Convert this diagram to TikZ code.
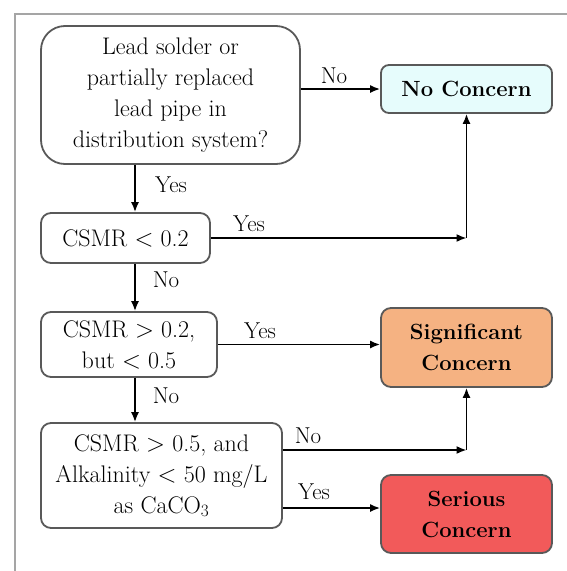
\documentclass[tikz,border=0pt]{standalone}
\usetikzlibrary{arrows.meta}
\definecolor{nocon}{RGB}{230,252,252}
\definecolor{sigcon}{RGB}{245,178,130}
\definecolor{sercon}{RGB}{242,90,90}
\definecolor{framegray}{RGB}{165,165,165}

\begin{document}
\begin{tikzpicture}[x=1pt,y=-1pt,
		box/.style={draw=black!65,line width=1.8pt,rounded corners=10pt,align=center,inner sep=0pt,font=\fontsize{24}{31}\selectfont},
		endbox/.style={box,font=\fontsize{22}{31}\selectfont\bfseries},
		arr/.style={line width=1.6pt,-{Latex[length=10pt,width=8pt]}},
		lbl/.style={inner sep=0pt,font=\fontsize{23}{26}\selectfont}]
		\useasboundingbox (0,0) rectangle (567,571);
		% outer frame
		\draw [framegray,line width=2.5pt] (15,580) -- (15,14) -- (580,14);
		\coordinate (spine) at (135,0);
		% question boxes
		\node [box,rounded corners=24pt,minimum width=259pt,minimum height=138pt] (lead) at (170.5,95) {Lead solder or\\partially replaced\\lead pipe in\\distribution system?};
		\node [box,minimum width=169pt,minimum height=50pt] (low) at (125.5,238) {CSMR $<$ 0.2};
		\node [box,minimum width=176pt,minimum height=65pt] (mid) at (129,344.5) {CSMR $>$ 0.2,\\but $<$ 0.5};
		\node [box,minimum width=241pt,minimum height=105pt] (high) at (161.5,475.5) {CSMR $>$ 0.5, and\\Alkalinity $<$ 50 mg/L\\as CaCO$_3$};
		% outcome boxes
		\node [endbox,fill=nocon,rounded corners=8pt,minimum width=171pt,minimum height=48pt] (none) at (466.5,89) {No Concern};
		\node [endbox,fill=sigcon,minimum width=171pt,minimum height=79pt] (sig) at (466.5,347.5) {Significant\\Concern};
		\node [endbox,fill=sercon,minimum width=171pt,minimum height=78pt] (ser) at (466.5,514) {Serious\\Concern};
		\coordinate (j1) at (none.south |- low.east);
		\coordinate (j2) at ([yshift=25.5pt]high.east -| sig.south);
		% connectors
		\draw [arr] (lead.east |- none.west) -- (none.west);
		\draw [arr] (lead.south -| spine) -- (low.north -| spine);
		\draw [arr] (low.south -| spine) -- (mid.north -| spine);
		\draw [arr] (mid.south -| spine) -- (high.north -| spine);
		\draw [arr] (low.east) -- (j1);
		\draw [arr] (j1) -- (none.south);
		\draw [arr] (mid.east) -- (mid.east -| sig.west);
		\draw [arr] ([yshift=25.5pt]high.east) -- (j2);
		\draw [arr] (j2) -- (sig.south);
		\draw [arr] ([yshift=-32.5pt]high.east) -- ([yshift=-32.5pt]high.east -| ser.west);
		% labels
		\node [lbl] (l1) at (334,76) {No};
		\node [lbl] (l2) at (171,185) {Yes};
		\node [lbl] (l3) at (249,224) {Yes};
		\node [lbl] (l4) at (166,280) {No};
		\node [lbl] (l5) at (260,331) {Yes};
		\node [lbl] (l6) at (166,396) {No};
		\node [lbl] (l7) at (308,436) {No};
		\node [lbl] (l8) at (314,492) {Yes};
	\end{tikzpicture}
\end{document}
